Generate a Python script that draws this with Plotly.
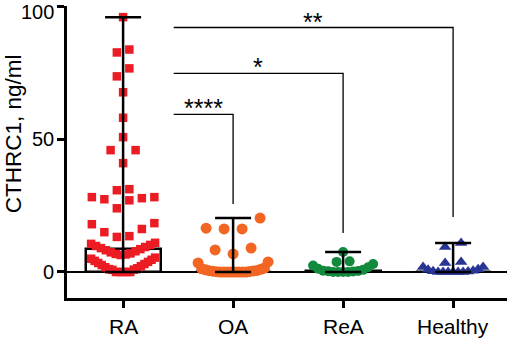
import plotly.graph_objects as go

# ---------------- data ----------------
categories = ["RA", "OA", "ReA", "Healthy"]

ra_values = [96.0, 83.8, 82.7, 76.7, 73.7, 67.7, 58.1, 50.8, 45.9, 45.9, 41.0,
             31.2, 30.8, 28.2, 28.2, 27.8, 27.4, 27.0, 24.0,
             18.4, 18.0, 16.2, 15.0, 13.5, 13.2,
             11.0, 10.6, 10.2, 9.8, 9.4, 9.0, 8.6, 8.2, 7.8, 7.4, 7.0, 6.8, 6.6, 6.4,
             5.4, 5.0, 4.6, 4.2, 3.8, 3.4, 3.0, 2.6, 2.2, 1.8, 1.4, 1.1, 0.9, 0.8,
             0.0, 0.0, 0.0, 0.0, 0.0]
oa_values = [20.3, 16.5, 16.2, 16.2, 9.0, 8.3, 6.8, 3.8, 3.4, 1.5, 1.2, 1.0, 0.8,
             0.6, 0.5, 0.4, 0.3, 0.2, 0.1, 0.0, 0.0, 0.0, 0.0, 0.0, 0.0, 0.0, 0.0]
rea_values = [7.5, 4.0, 3.8, 3.0, 2.4, 1.8, 1.2, 0.8, 0.5, 0.4, 0.3, 0.2, 0.0, 0.0, 0.0, 0.0]
healthy_values = [10.9, 9.4, 3.8, 3.4, 1.9, 1.9, 1.0, 0.8, 0.5, 0.3, 0.2,
                  0.0, 0.0, 0.0, 0.0, 0.0, 0.0]

medians = [8.6, 0.0, 0.5, 0.0]
range_min = [0.0, 0.0, 0.0, 0.0]
range_max = [96.0, 20.3, 7.5, 10.9]

y_ticks = [0, 50, 100]
y_tick_labels = ["0", "50", "100"]

# significance comparisons
cmp_from = ["RA", "RA", "RA"]
cmp_to = ["OA", "ReA", "Healthy"]
cmp_labels = ["****", "*", "**"]
cmp_height = [59.4, 74.8, 92.1]
cmp_drop = [25.6, 14.7, 20.7]

# ---------------- styling ----------------
W, H = 510, 340
ML, MR, MT, MB = 67, 3, 6, 42
X_RANGE = [-0.51, 3.49]
Y_RANGE = [-9.8, 100.2]
px_per_cat = (W - ML - MR) / (X_RANGE[1] - X_RANGE[0])

group_style = [
    dict(symbol="square", size=8.5, color="#EC1C24", binh=6.0, d=12.5, half=32),
    dict(symbol="circle", size=11, color="#F26522", binh=6.0, d=18.0, half=35),
    dict(symbol="circle", size=10, color="#128A3E", binh=3.4, d=13.0, half=30),
    dict(symbol="triangle-up", size=11, color="#283593", binh=3.4, d=16.0, half=30),
]
FONT = "Arial, Liberation Sans, Helvetica, sans-serif"


def swarm(vals, center, binh, d_px, half_px):
    v = sorted(vals)
    xs, ys = [], []
    i = 0
    while i < len(v):
        j = i
        while j < len(v) and v[j] - v[i] < binh:
            j += 1
        grp = v[i:j]
        n = len(grp)
        d = d_px if n == 1 else min(d_px, 2 * half_px / (n - 1))
        if n % 2 == 1:
            pos = [0] + [s * k for k in range(1, n // 2 + 1) for s in (-1, 1)]
        else:
            pos = [s * (k - 0.5) for k in range(1, n // 2 + 1) for s in (-1, 1)]
        for val, p in zip(grp, pos):
            xs.append(center + p * d / px_per_cat)
            ys.append(val)
        i = j
    return xs, ys


fig = go.Figure()

# median bars (outline)
fig.add_trace(go.Bar(
    x=list(range(len(categories))), y=medians, width=0.68,
    marker=dict(color="rgba(0,0,0,0)", line=dict(color="black", width=2.5)),
    showlegend=False, hoverinfo="skip"))

all_values = [ra_values, oa_values, rea_values, healthy_values]
for k, (vals, st) in enumerate(zip(all_values, group_style)):
    xs, ys = swarm(vals, k, st["binh"], st["d"], st["half"])
    fig.add_trace(go.Scatter(
        x=xs, y=ys, mode="markers",
        marker=dict(symbol=st["symbol"], size=st["size"], color=st["color"],
                    line=dict(width=0)),
        showlegend=False, hoverinfo="skip"))

# range whiskers
fig.add_trace(go.Scatter(
    x=list(range(len(categories))), y=medians, mode="markers",
    marker=dict(size=1, color="rgba(0,0,0,0)"),
    error_y=dict(type="data", symmetric=False,
                 array=[mx - md for mx, md in zip(range_max, medians)],
                 arrayminus=[md - mn for md, mn in zip(medians, range_min)],
                 width=18, thickness=2.5, color="black"),
    showlegend=False, hoverinfo="skip"))

# significance brackets
for a, b, lab, hgt, drop in zip(cmp_from, cmp_to, cmp_labels, cmp_height, cmp_drop):
    xa = categories.index(a) + 0.46
    xb = categories.index(b)
    fig.add_trace(go.Scatter(
        x=[xa, xb, xb], y=[hgt, hgt, drop], mode="lines",
        line=dict(color="black", width=1.3), showlegend=False, hoverinfo="skip"))
    fig.add_annotation(x=(xa + xb) / 2, y=hgt, text=lab, showarrow=False,
                       yanchor="bottom", yshift=-10,
                       font=dict(family=FONT, size=25, color="black"))

# x category labels
for k, cat in enumerate(categories):
    fig.add_annotation(x=k, xref="x", y=0, yref="paper", yanchor="top", yshift=-15,
                       text=cat, showarrow=False,
                       font=dict(family=FONT, size=21, color="black"))

# y tick labels (the top one nudged down to stay inside the picture)
for t, lab in zip(y_ticks, y_tick_labels):
    fig.add_annotation(x=0, xref="paper", xanchor="right", xshift=-11,
                       y=t, yref="y", yanchor="middle", text=lab, showarrow=False,
                       yshift=-5 if t == max(y_ticks) else 0,
                       font=dict(family=FONT, size=20, color="black"))

# y title
fig.add_annotation(xref="paper", x=0, xanchor="center", xshift=-54,
                   yref="y", y=57.5, yanchor="middle", yshift=-15,
                   text="CTHRC1, ng/ml", textangle=-90, showarrow=False,
                   font=dict(family=FONT, size=22.5, color="black"))

fig.update_layout(
    width=W, height=H,
    margin=dict(l=ML, r=MR, t=MT, b=MB, autoexpand=False),
    paper_bgcolor="white", plot_bgcolor="white",
    font=dict(family=FONT, size=20, color="black"),
    bargap=0,
    xaxis=dict(range=X_RANGE, tickmode="array", tickvals=list(range(len(categories))),
               ticktext=["" for _ in categories], showline=True, linecolor="black",
               linewidth=2.5, ticks="outside", ticklen=7, tickwidth=2.5,
               tickcolor="black", showgrid=False, zeroline=False, fixedrange=True,
               automargin=False),
    yaxis=dict(range=Y_RANGE, tickmode="array", tickvals=y_ticks,
               ticktext=["" for _ in y_ticks],
               showline=True, linecolor="black", linewidth=2.5,
               ticks="outside", ticklen=7, tickwidth=2.5, tickcolor="black",
               automargin=False,
               showgrid=False, zeroline=True, zerolinecolor="black", zerolinewidth=2,
               fixedrange=True),
)

fig.write_html("out.html", config={"displayModeBar": False},
               post_script="document.body.style.margin='0';")
